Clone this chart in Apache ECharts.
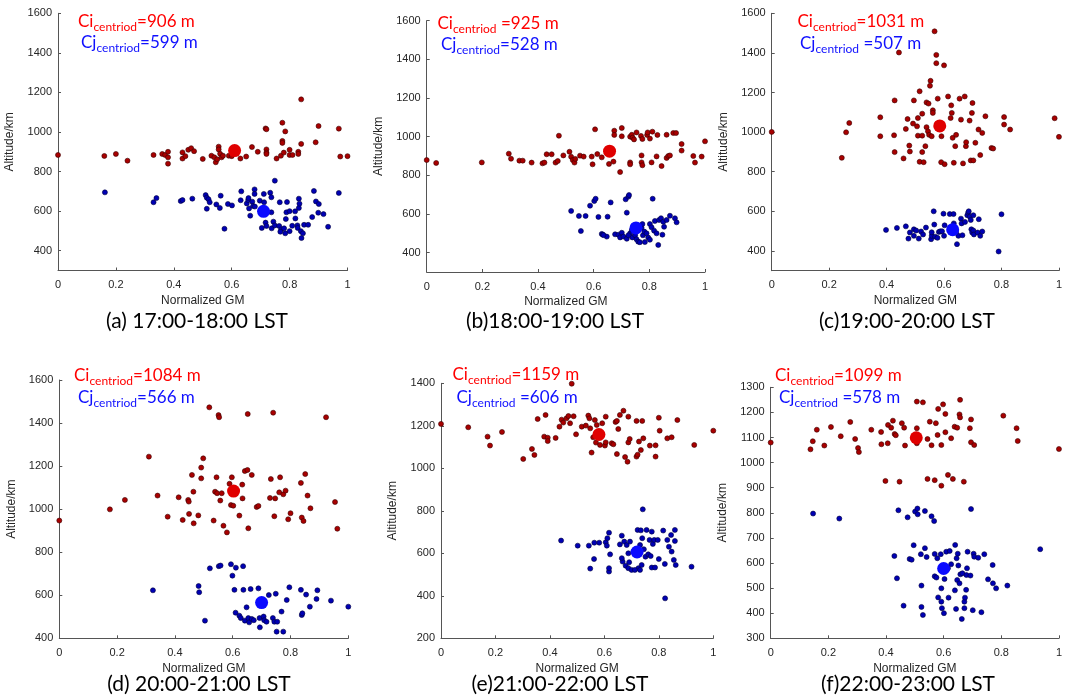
<!DOCTYPE html>
<html>
<head>
<meta charset="utf-8">
<script src="https://cdn.jsdelivr.net/npm/echarts@6/dist/echarts.min.js"></script>
<style>html,body{margin:0;padding:0;background:#fff;}#c{width:1065px;height:700px;}</style>
</head>
<body>
<div id="c"></div>
<script>
// ---------- DATA ----------
var panelTitles = ['(a) 17:00-18:00 LST','(b)18:00-19:00 LST','(c)19:00-20:00 LST','(d) 20:00-21:00 LST','(e)21:00-22:00 LST','(f)22:00-23:00 LST'];
var ciCentroidVal = [906, 925, 1031, 1084, 1159, 1099];
var cjCentroidVal = [599, 528, 507, 566, 606, 578];
var ciCentroidX = [0.61, 0.657, 0.585, 0.603, 0.58, 0.505];
var cjCentroidX = [0.71, 0.752, 0.63, 0.70, 0.72, 0.60];
var yMin = [300, 300, 300, 400, 200, 300];
var yMax = [1600, 1600, 1600, 1600, 1400, 1300];
var yTicksABC = [400, 600, 800, 1000, 1200, 1400, 1600];
var xTicks = [0, 0.2, 0.4, 0.6, 0.8, 1];

var ciA = [[0,884],[0.16,879],[0.20,889],[0.24,855],[0.33,884],[0.36,889],[0.37,884],[0.38,900],[0.38,872],[0.38,840],[0.43,897],[0.43,866],[0.44,878],[0.45,910],[0.46,918],[0.47,903],[0.50,864],[0.53,880],[0.54,872],[0.545,847],[0.55,862],[0.555,926],[0.555,912],[0.56,890],[0.565,872],[0.57,880],[0.59,880],[0.60,878],[0.63,866],[0.65,876],[0.67,924],[0.69,900],[0.717,1018],[0.72,1014],[0.72,912],[0.72,896],[0.72,889],[0.755,866],[0.77,880],[0.775,1047],[0.775,955],[0.775,945],[0.78,896],[0.785,1003],[0.80,910],[0.80,884],[0.81,884],[0.83,900],[0.83,889],[0.84,1165],[0.84,940],[0.89,948],[0.90,1030],[0.97,1017],[0.975,876],[1.0,878]];
var cjA = [[0.162,695],[0.33,645],[0.34,666],[0.424,651],[0.43,656],[0.464,663],[0.51,681],[0.514,668],[0.52,660],[0.514,612],[0.524,645],[0.547,634],[0.559,616],[0.562,678],[0.575,511],[0.587,636],[0.601,629],[0.633,700],[0.631,655],[0.652,639],[0.657,656],[0.66,614],[0.658,666],[0.664,577],[0.671,648],[0.674,626],[0.679,710],[0.679,687],[0.68,623],[0.697,653],[0.711,687],[0.704,515],[0.712,645],[0.717,542],[0.72,525],[0.733,693],[0.737,670],[0.737,594],[0.738,513],[0.744,547],[0.749,528],[0.764,525],[0.766,645],[0.771,508],[0.768,496],[0.749,754],[0.781,513],[0.785,488],[0.787,560],[0.789,594],[0.791,646],[0.80,600],[0.80,499],[0.809,526],[0.819,599],[0.82,563],[0.827,528],[0.828,515],[0.832,616],[0.832,663],[0.834,638],[0.839,499],[0.841,464],[0.846,488],[0.85,531],[0.864,531],[0.878,570],[0.884,702],[0.891,649],[0.899,592],[0.901,636],[0.917,585],[0.933,521],[0.97,692]];

var ciB = [[0,879],[0.034,864],[0.198,867],[0.295,912],[0.303,886],[0.333,876],[0.345,876],[0.377,866],[0.416,862],[0.423,866],[0.431,909],[0.449,909],[0.463,866],[0.471,874],[0.475,1005],[0.491,903],[0.513,922],[0.519,896],[0.525,879],[0.531,866],[0.534,885],[0.551,902],[0.564,897],[0.593,897],[0.596,857],[0.605,1038],[0.613,910],[0.629,893],[0.655,859],[0.671,871],[0.674,1031],[0.674,1009],[0.695,817],[0.701,1045],[0.701,1002],[0.731,1000],[0.731,867],[0.731,857],[0.737,1010],[0.74,995],[0.745,986],[0.754,1022],[0.77,1004],[0.772,903],[0.775,988],[0.772,867],[0.775,852],[0.792,1009],[0.794,1022],[0.802,990],[0.808,867],[0.811,1026],[0.826,898],[0.829,1009],[0.844,848],[0.862,1010],[0.862,890],[0.868,900],[0.874,903],[0.886,1019],[0.896,1019],[0.916,962],[0.916,928],[0.958,900],[0.964,866],[0.988,897],[1.0,976]];
var cjB = [[0.519,616],[0.547,590],[0.554,512],[0.571,590],[0.587,643],[0.602,667],[0.607,679],[0.617,585],[0.629,497],[0.633,493],[0.65,586],[0.661,660],[0.677,495],[0.689,493],[0.695,479],[0.715,676],[0.725,690],[0.727,698],[0.719,607],[0.731,500],[0.739,479],[0.772,529],[0.775,548],[0.777,490],[0.782,509],[0.784,455],[0.79,500],[0.796,478],[0.802,467],[0.802,548],[0.808,531],[0.812,679],[0.817,514],[0.82,564],[0.826,500],[0.832,440],[0.835,569],[0.842,578],[0.847,493],[0.85,560],[0.853,534],[0.862,569],[0.874,591],[0.892,578],[0.898,557],[0.647,483],[0.635,491],[0.701,503],[0.707,483],[0.719,472],[0.725,490],[0.749,490],[0.754,469],[0.76,457],[0.766,454],[0.737,517]];

var ciC = [[0,1001],[0.244,870],[0.259,999],[0.27,1046],[0.378,1075],[0.378,979],[0.428,1160],[0.426,984],[0.428,899],[0.443,1402],[0.459,867],[0.467,1016],[0.473,1066],[0.479,932],[0.481,902],[0.495,1160],[0.492,1043],[0.506,1029],[0.509,1071],[0.509,982],[0.515,1206],[0.515,850],[0.524,1093],[0.524,982],[0.524,899],[0.529,848],[0.535,929],[0.539,1150],[0.539,1025],[0.544,1004],[0.546,1144],[0.548,986],[0.553,1259],[0.551,1234],[0.557,979],[0.567,1509],[0.573,1390],[0.573,1348],[0.561,1110],[0.561,1097],[0.578,1169],[0.59,848],[0.591,979],[0.60,1337],[0.602,838],[0.614,1180],[0.623,1071],[0.625,1135],[0.627,1097],[0.63,971],[0.634,845],[0.639,929],[0.642,986],[0.654,1169],[0.659,1063],[0.666,842],[0.672,1180],[0.676,929],[0.677,949],[0.689,1058],[0.693,857],[0.697,1097],[0.699,1147],[0.702,857],[0.709,946],[0.72,1013],[0.726,884],[0.733,996],[0.744,1080],[0.765,920],[0.771,917],[0.809,1076],[0.809,1038],[0.83,1013],[0.985,1070],[1.0,976]];
var cjC = [[0.398,506],[0.436,516],[0.476,462],[0.467,524],[0.481,493],[0.495,509],[0.495,476],[0.503,503],[0.512,462],[0.52,498],[0.527,483],[0.537,518],[0.555,459],[0.557,476],[0.557,494],[0.564,600],[0.566,533],[0.569,472],[0.577,466],[0.582,496],[0.587,499],[0.593,499],[0.598,588],[0.60,476],[0.602,529],[0.62,586],[0.625,493],[0.633,586],[0.634,539],[0.642,493],[0.645,434],[0.65,476],[0.659,563],[0.661,539],[0.664,479],[0.673,546],[0.681,580],[0.684,593],[0.686,600],[0.69,573],[0.693,556],[0.695,509],[0.698,493],[0.702,503],[0.704,483],[0.702,580],[0.717,493],[0.721,560],[0.726,476],[0.733,498],[0.80,585],[0.79,397]];

var ciD = [[0,947],[0.175,999],[0.227,1043],[0.31,1244],[0.34,1063],[0.375,965],[0.413,1055],[0.427,950],[0.446,1043],[0.448,1035],[0.449,978],[0.459,1159],[0.464,1081],[0.465,934],[0.481,971],[0.491,1143],[0.491,1193],[0.498,1236],[0.519,1473],[0.534,947],[0.539,1081],[0.544,1148],[0.546,1074],[0.551,1437],[0.553,1427],[0.557,1040],[0.562,1074],[0.568,923],[0.58,892],[0.589,1118],[0.594,1019],[0.597,1148],[0.602,1016],[0.623,970],[0.633,1114],[0.634,1050],[0.642,1177],[0.651,1182],[0.654,911],[0.652,1442],[0.666,1159],[0.683,1010],[0.689,1015],[0.729,1052],[0.732,1140],[0.74,1448],[0.744,967],[0.747,1050],[0.761,1078],[0.764,1148],[0.775,1069],[0.783,1086],[0.792,953],[0.80,981],[0.836,1122],[0.839,961],[0.845,945],[0.851,1163],[0.859,1063],[0.869,1004],[0.923,1427],[0.954,1033],[0.962,909]];
var cjD = [[0.324,623],[0.482,643],[0.484,614],[0.504,482],[0.521,725],[0.552,735],[0.558,738],[0.594,744],[0.599,691],[0.611,728],[0.636,735],[0.606,625],[0.623,505],[0.61,519],[0.628,494],[0.637,625],[0.642,482],[0.648,544],[0.654,494],[0.657,474],[0.662,629],[0.666,490],[0.673,484],[0.689,632],[0.693,494],[0.694,451],[0.707,501],[0.709,484],[0.717,477],[0.725,601],[0.739,494],[0.744,477],[0.749,607],[0.752,431],[0.754,477],[0.769,524],[0.775,431],[0.787,578],[0.796,637],[0.836,625],[0.839,508],[0.841,516],[0.854,603],[0.867,547],[0.89,583],[0.893,623],[0.94,575],[1.0,547]];

var ciE = [[0,1209],[0.1,1193],[0.171,1149],[0.18,1107],[0.224,1171],[0.302,1044],[0.334,1091],[0.343,1063],[0.355,1232],[0.384,1251],[0.379,1149],[0.392,1144],[0.392,1128],[0.421,1143],[0.435,1196],[0.443,1229],[0.449,1215],[0.461,1235],[0.468,1246],[0.474,1212],[0.48,1398],[0.487,1245],[0.496,1160],[0.517,1196],[0.532,1201],[0.541,1248],[0.545,1235],[0.548,1188],[0.553,1074],[0.559,1146],[0.565,1227],[0.569,1121],[0.572,1204],[0.584,1110],[0.592,1212],[0.602,1107],[0.605,1122],[0.605,1243],[0.627,1118],[0.633,1113],[0.641,1218],[0.646,1223],[0.646,1067],[0.651,1185],[0.657,1251],[0.67,1271],[0.676,1053],[0.685,1031],[0.688,1122],[0.688,1243],[0.693,1138],[0.718,1055],[0.718,1223],[0.722,1064],[0.727,1126],[0.734,1086],[0.739,1223],[0.743,1141],[0.767,1107],[0.788,1108],[0.788,1055],[0.80,1238],[0.803,1177],[0.831,1141],[0.847,1146],[0.868,1227],[0.93,1110],[1.0,1177]];
var cjE = [[0.441,660],[0.502,636],[0.543,636],[0.548,528],[0.562,573],[0.563,650],[0.581,650],[0.605,652],[0.609,636],[0.611,671],[0.617,697],[0.621,595],[0.617,514],[0.617,530],[0.657,642],[0.664,683],[0.667,561],[0.673,655],[0.678,542],[0.682,639],[0.688,530],[0.691,558],[0.694,655],[0.70,522],[0.707,608],[0.718,605],[0.722,710],[0.725,530],[0.731,639],[0.731,522],[0.734,708],[0.737,545],[0.741,807],[0.739,671],[0.745,619],[0.751,584],[0.755,710],[0.761,595],[0.766,663],[0.77,587],[0.774,702],[0.774,533],[0.778,644],[0.783,663],[0.786,533],[0.796,663],[0.80,573],[0.816,707],[0.822,550],[0.823,388],[0.831,663],[0.837,631],[0.845,686],[0.847,608],[0.855,569],[0.859,710],[0.859,658],[0.862,545],[0.92,537],[0.688,600],[0.664,577],[0.712,522]];

var ciF = [[0,1080],[0.138,1053],[0.146,1085],[0.16,1131],[0.186,1068],[0.209,1142],[0.243,1105],[0.276,1162],[0.293,1094],[0.303,1058],[0.306,1042],[0.349,1131],[0.383,1122],[0.384,1073],[0.398,927],[0.406,1077],[0.407,1150],[0.418,1139],[0.424,1167],[0.43,1114],[0.434,1109],[0.447,924],[0.455,1157],[0.463,1139],[0.466,1068],[0.507,1243],[0.507,1137],[0.507,1077],[0.528,1240],[0.544,1094],[0.544,935],[0.552,1163],[0.558,1069],[0.569,930],[0.573,1157],[0.579,1110],[0.581,1214],[0.592,1070],[0.592,908],[0.598,1232],[0.606,1194],[0.606,1121],[0.615,951],[0.626,1097],[0.632,935],[0.638,1143],[0.647,1139],[0.655,1192],[0.657,1250],[0.657,1180],[0.67,924],[0.691,1137],[0.695,1172],[0.695,1081],[0.706,1070],[0.807,1187],[0.853,1137],[0.857,1086],[1.0,1054]];
var cjF = [[0.147,797],[0.238,777],[0.429,628],[0.438,539],[0.443,810],[0.461,430],[0.475,782],[0.482,616],[0.489,613],[0.496,671],[0.501,805],[0.509,817],[0.51,794],[0.521,635],[0.523,510],[0.523,425],[0.528,393],[0.535,659],[0.541,624],[0.535,807],[0.558,786],[0.567,767],[0.569,636],[0.569,547],[0.575,542],[0.578,619],[0.581,463],[0.59,635],[0.592,499],[0.592,446],[0.594,420],[0.601,400],[0.603,536],[0.609,645],[0.617,462],[0.621,648],[0.626,595],[0.64,672],[0.639,491],[0.643,417],[0.649,637],[0.647,532],[0.651,590],[0.655,519],[0.658,555],[0.663,377],[0.665,559],[0.672,446],[0.672,420],[0.674,462],[0.678,493],[0.679,552],[0.681,579],[0.683,645],[0.693,550],[0.701,412],[0.704,637],[0.706,625],[0.72,621],[0.731,404],[0.741,635],[0.754,535],[0.77,592],[0.771,519],[0.782,499],[0.821,510],[0.935,655],[0.695,815],[0.615,579],[0.645,619]];

var ciData = [ciA, ciB, ciC, ciD, ciE, ciF];
var cjData = [cjA, cjB, cjC, cjD, cjE, cjF];

// ---------- LAYOUT ----------
var grids = [
  {left: 58,    top: 13.3,  width: 289.5, height: 257.2},
  {left: 426.7, top: 20.7,  width: 278.3, height: 251.3},
  {left: 771.7, top: 13.3,  width: 291.6, height: 257.4},
  {left: 59.3,  top: 380,   width: 289,   height: 258.3},
  {left: 441,   top: 383.3, width: 272.3, height: 255},
  {left: 770.7, top: 387.3, width: 291.6, height: 251}
];
var titlePos = [[197,324],[555,324],[907,324],[199,687],[560,687],[908,687]];
var ciLabelPos = [[78,11],[437.5,13],[797.5,11],[74,365],[452.5,364],[775,365]];
var cjLabelPos = [[81,32],[441,34],[800,33],[78,387],[456.5,387],[779,387]];
var ciSpace = ['', ' ', '', '', '', ''];
var cjSpace = ['', '', ' ', '', ' ', ' '];

var axisColor = '#555';
var textColor = '#262626';
var options = {
  animation: false,
  backgroundColor: '#fff',
  grid: [], xAxis: [], yAxis: [], series: [], title: []
};
var rich = function(color){
  return {
    m: {fontFamily: 'Lato', fontSize: 17, fontWeight: 'normal', color: color, lineHeight: 22},
    s: {fontFamily: 'Lato', fontSize: 12, fontWeight: 'normal', color: color, lineHeight: 12, verticalAlign: 'bottom'}
  };
};
function plainNum(v) { return String(Math.round(v * 1000) / 1000); }
for (var i = 0; i < 6; i++) {
  var g = grids[i];
  options.grid.push({left: g.left, top: g.top, width: g.width, height: g.height, containLabel: false});
  options.xAxis.push({
    type: 'value', gridIndex: i, min: 0, max: 1, interval: 0.2,
    name: 'Normalized GM', nameLocation: 'middle', nameGap: 24,
    nameTextStyle: {fontFamily: 'Liberation Sans', fontSize: 12, color: textColor},
    axisLine: {show: true, lineStyle: {color: axisColor, width: 1}},
    axisTick: {show: true, inside: true, length: 3, lineStyle: {color: axisColor}},
    axisLabel: {fontFamily: 'Liberation Sans', fontSize: 11, color: textColor, margin: 9, formatter: plainNum},
    splitLine: {show: false}
  });
  var yAx = {
    type: 'value', gridIndex: i, min: yMin[i], max: yMax[i],
    name: 'Altitude/km', nameLocation: 'middle', nameGap: 42,
    nameTextStyle: {fontFamily: 'Liberation Sans', fontSize: 12, color: textColor},
    axisLine: {show: true, lineStyle: {color: axisColor, width: 1}},
    axisTick: {show: true, inside: true, length: 3, lineStyle: {color: axisColor}},
    axisLabel: {fontFamily: 'Liberation Sans', fontSize: 11, color: textColor, margin: 6, formatter: plainNum},
    splitLine: {show: false}
  };
  if (i < 3) {
    yAx.axisTick.customValues = yTicksABC;
    yAx.axisLabel.customValues = yTicksABC;
  } else if (i === 5) {
    yAx.interval = 100;
  } else {
    yAx.interval = 200;
  }
  options.yAxis.push(yAx);

  options.series.push({
    type: 'scatter', xAxisIndex: i, yAxisIndex: i, data: ciData[i], clip: false,
    symbolSize: 5, itemStyle: {color: '#a80000', borderColor: '#3a0000', borderWidth: 0.6, opacity: 1}
  });
  options.series.push({
    type: 'scatter', xAxisIndex: i, yAxisIndex: i, data: cjData[i], clip: false,
    symbolSize: 5, itemStyle: {color: '#0000b4', borderColor: '#00003a', borderWidth: 0.6, opacity: 1}
  });
  options.series.push({
    type: 'scatter', xAxisIndex: i, yAxisIndex: i, clip: false,
    data: [[ciCentroidX[i], ciCentroidVal[i]]], symbolSize: 13, z: 5,
    itemStyle: {color: '#e00000', opacity: 1}
  });
  options.series.push({
    type: 'scatter', xAxisIndex: i, yAxisIndex: i, clip: false,
    data: [[cjCentroidX[i], cjCentroidVal[i]]], symbolSize: 13, z: 5,
    itemStyle: {color: '#0a0aff', opacity: 1}
  });

  options.title.push({
    text: panelTitles[i], left: titlePos[i][0], top: titlePos[i][1] - 13.5, textAlign: 'center',
    padding: 0,
    textStyle: {fontFamily: 'Lato', fontSize: 21, fontWeight: 'normal', color: '#000'}
  });
  options.title.push({
    text: '{m|Ci}{s|centriod}{m|' + ciSpace[i] + '=' + ciCentroidVal[i] + ' m}',
    left: ciLabelPos[i][0], top: ciLabelPos[i][1], padding: 0,
    textStyle: {fontWeight: 'normal', rich: rich('#ff0000')}
  });
  options.title.push({
    text: '{m|Cj}{s|centriod}{m|' + cjSpace[i] + '=' + cjCentroidVal[i] + ' m}',
    left: cjLabelPos[i][0], top: cjLabelPos[i][1], padding: 0,
    textStyle: {fontWeight: 'normal', rich: rich('#1010ff')}
  });
}
var chart = echarts.init(document.getElementById('c'), null, {renderer: 'canvas'});
chart.setOption(options);
</script>
</body>
</html>
